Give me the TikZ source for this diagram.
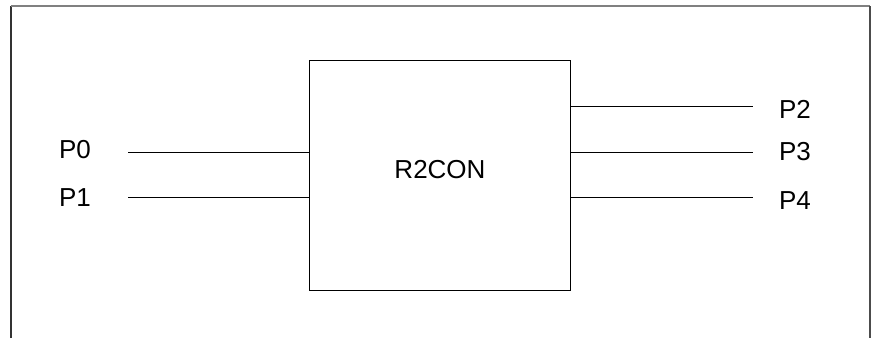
\documentclass[tikz,border=0pt]{standalone}
\usepackage{fontspec}
\setmainfont{Liberation Sans}
\usepackage{tikz}
\usetikzlibrary{positioning}
\definecolor{framegray}{HTML}{808080}

\begin{document}
\begin{tikzpicture}[x=1pt, y=-1pt, every node/.style={font=\fontsize{26}{28}\selectfont}]
  \useasboundingbox (0,0) rectangle (871,338);
  % open frame
  \draw[line width=1.5pt, black!80] (11,338) -- (11,6);
  \draw[line width=2pt, framegray] (11,6) -- (870,6);
  \draw[line width=1.5pt, black!70] (870,6) -- (870,338);

  \node[draw, line width=0.8pt, minimum width=261pt, minimum height=230pt, inner sep=0pt] (r2con) at (439.5,175) {};
  \node (r2conlbl) at (440,170) {R2CON};

  \node (p0) at (75,150) {P0};
  \node (p1) at (75,198) {P1};
  \node (p2) at (795,109) {P2};
  \node (p3) at (795,152) {P3};
  \node (p4) at (795,201) {P4};

  \coordinate (p0end) at (128,152);
  \coordinate (p1end) at (128,197);
  \coordinate (p2end) at (753,106);
  \coordinate (p3end) at (753,152);
  \coordinate (p4end) at (753,197);

  \draw[line width=0.8pt] (p0end) -- (p0end -| r2con.west);
  \draw[line width=0.8pt] (p1end) -- (p1end -| r2con.west);
  \draw[line width=0.8pt] (r2con.east |- p2end) -- (p2end);
  \draw[line width=0.8pt] (r2con.east |- p3end) -- (p3end);
  \draw[line width=0.8pt] (r2con.east |- p4end) -- (p4end);
\end{tikzpicture}
\end{document}
